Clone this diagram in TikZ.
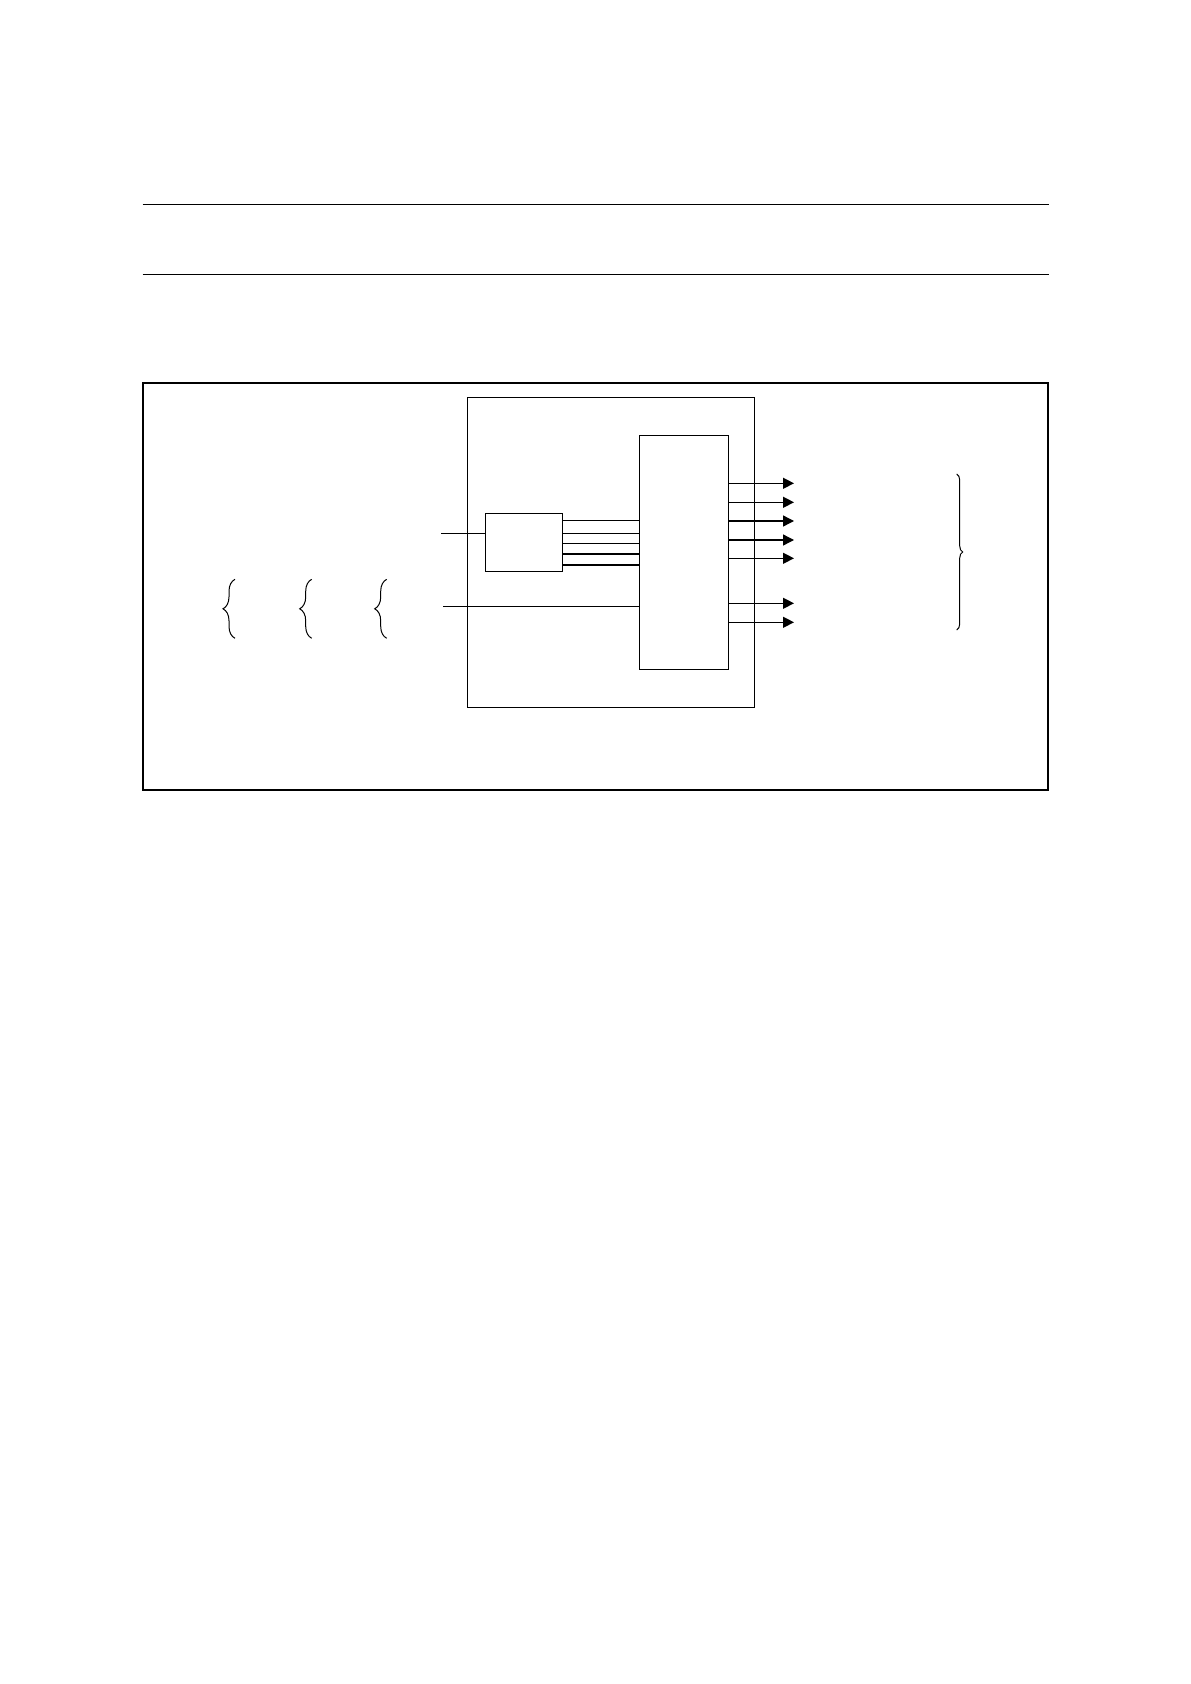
\documentclass[tikz,border=0pt]{standalone}
\usepackage{tikz}
\usetikzlibrary{arrows.meta,decorations.pathreplacing}
\begin{document}
\begin{tikzpicture}[x=0.5pt,y=-0.5pt,
  box/.style={draw,line width=0.65pt,inner sep=0pt,outer sep=0pt},
  wire/.style={line width=0.65pt},
  sig/.style={wire,-{Triangle[length=5.5pt,width=5.5pt]}},
  curly/.style={line width=0.5pt,decorate,decoration={brace,amplitude=#1}}]
  \useasboundingbox (0,0) rectangle (1190,1684);
  % header rules
  \draw[wire] (142.7,204.3) -- (1048.7,204.3);
  \draw[wire] (142.7,274.3) -- (1048.7,274.3);
  % boxes
  \node[box,line width=1pt,minimum width=452.5pt,minimum height=203.3pt] (frame) at (595.2,586.7) {};
  \node[box,minimum width=143.5pt,minimum height=155.2pt] (module) at (610.8,552.5) {};
  \node[box,minimum width=44.5pt,minimum height=116.8pt] (mux) at (683.8,552.5) {};
  \node[box,minimum width=38.5pt,minimum height=29.2pt] (enc) at (523.8,542.5) {};
  % inputs
  \coordinate (inA) at (441,533.3);
  \coordinate (inB) at (443.3,606.7);
  \draw[wire] (inA) -- (enc.west |- inA);
  \draw[wire] (inB) -- (mux.west |- inB);
  % parallel lines enc -> mux
  \foreach \y in {520.7,533.3,543.3,554,565}
    \draw[wire] (enc.east |- 0,\y) -- (mux.west |- 0,\y);
  % outputs
  \foreach \y [count=\i] in {483.3,502.3,521,540,558.3,603.3,622.3} {
    \coordinate (out\i) at (794,\y);
    \draw[sig] (mux.east |- out\i) -- (out\i);
  }
  % braces
  \foreach \x in {235,311.7,386.7}
    \draw[curly=6pt] (\x,638.3) -- (\x,579.3);
  \draw[curly=3pt] (956.7,474) -- (956.7,630);
\end{tikzpicture}
\end{document}
